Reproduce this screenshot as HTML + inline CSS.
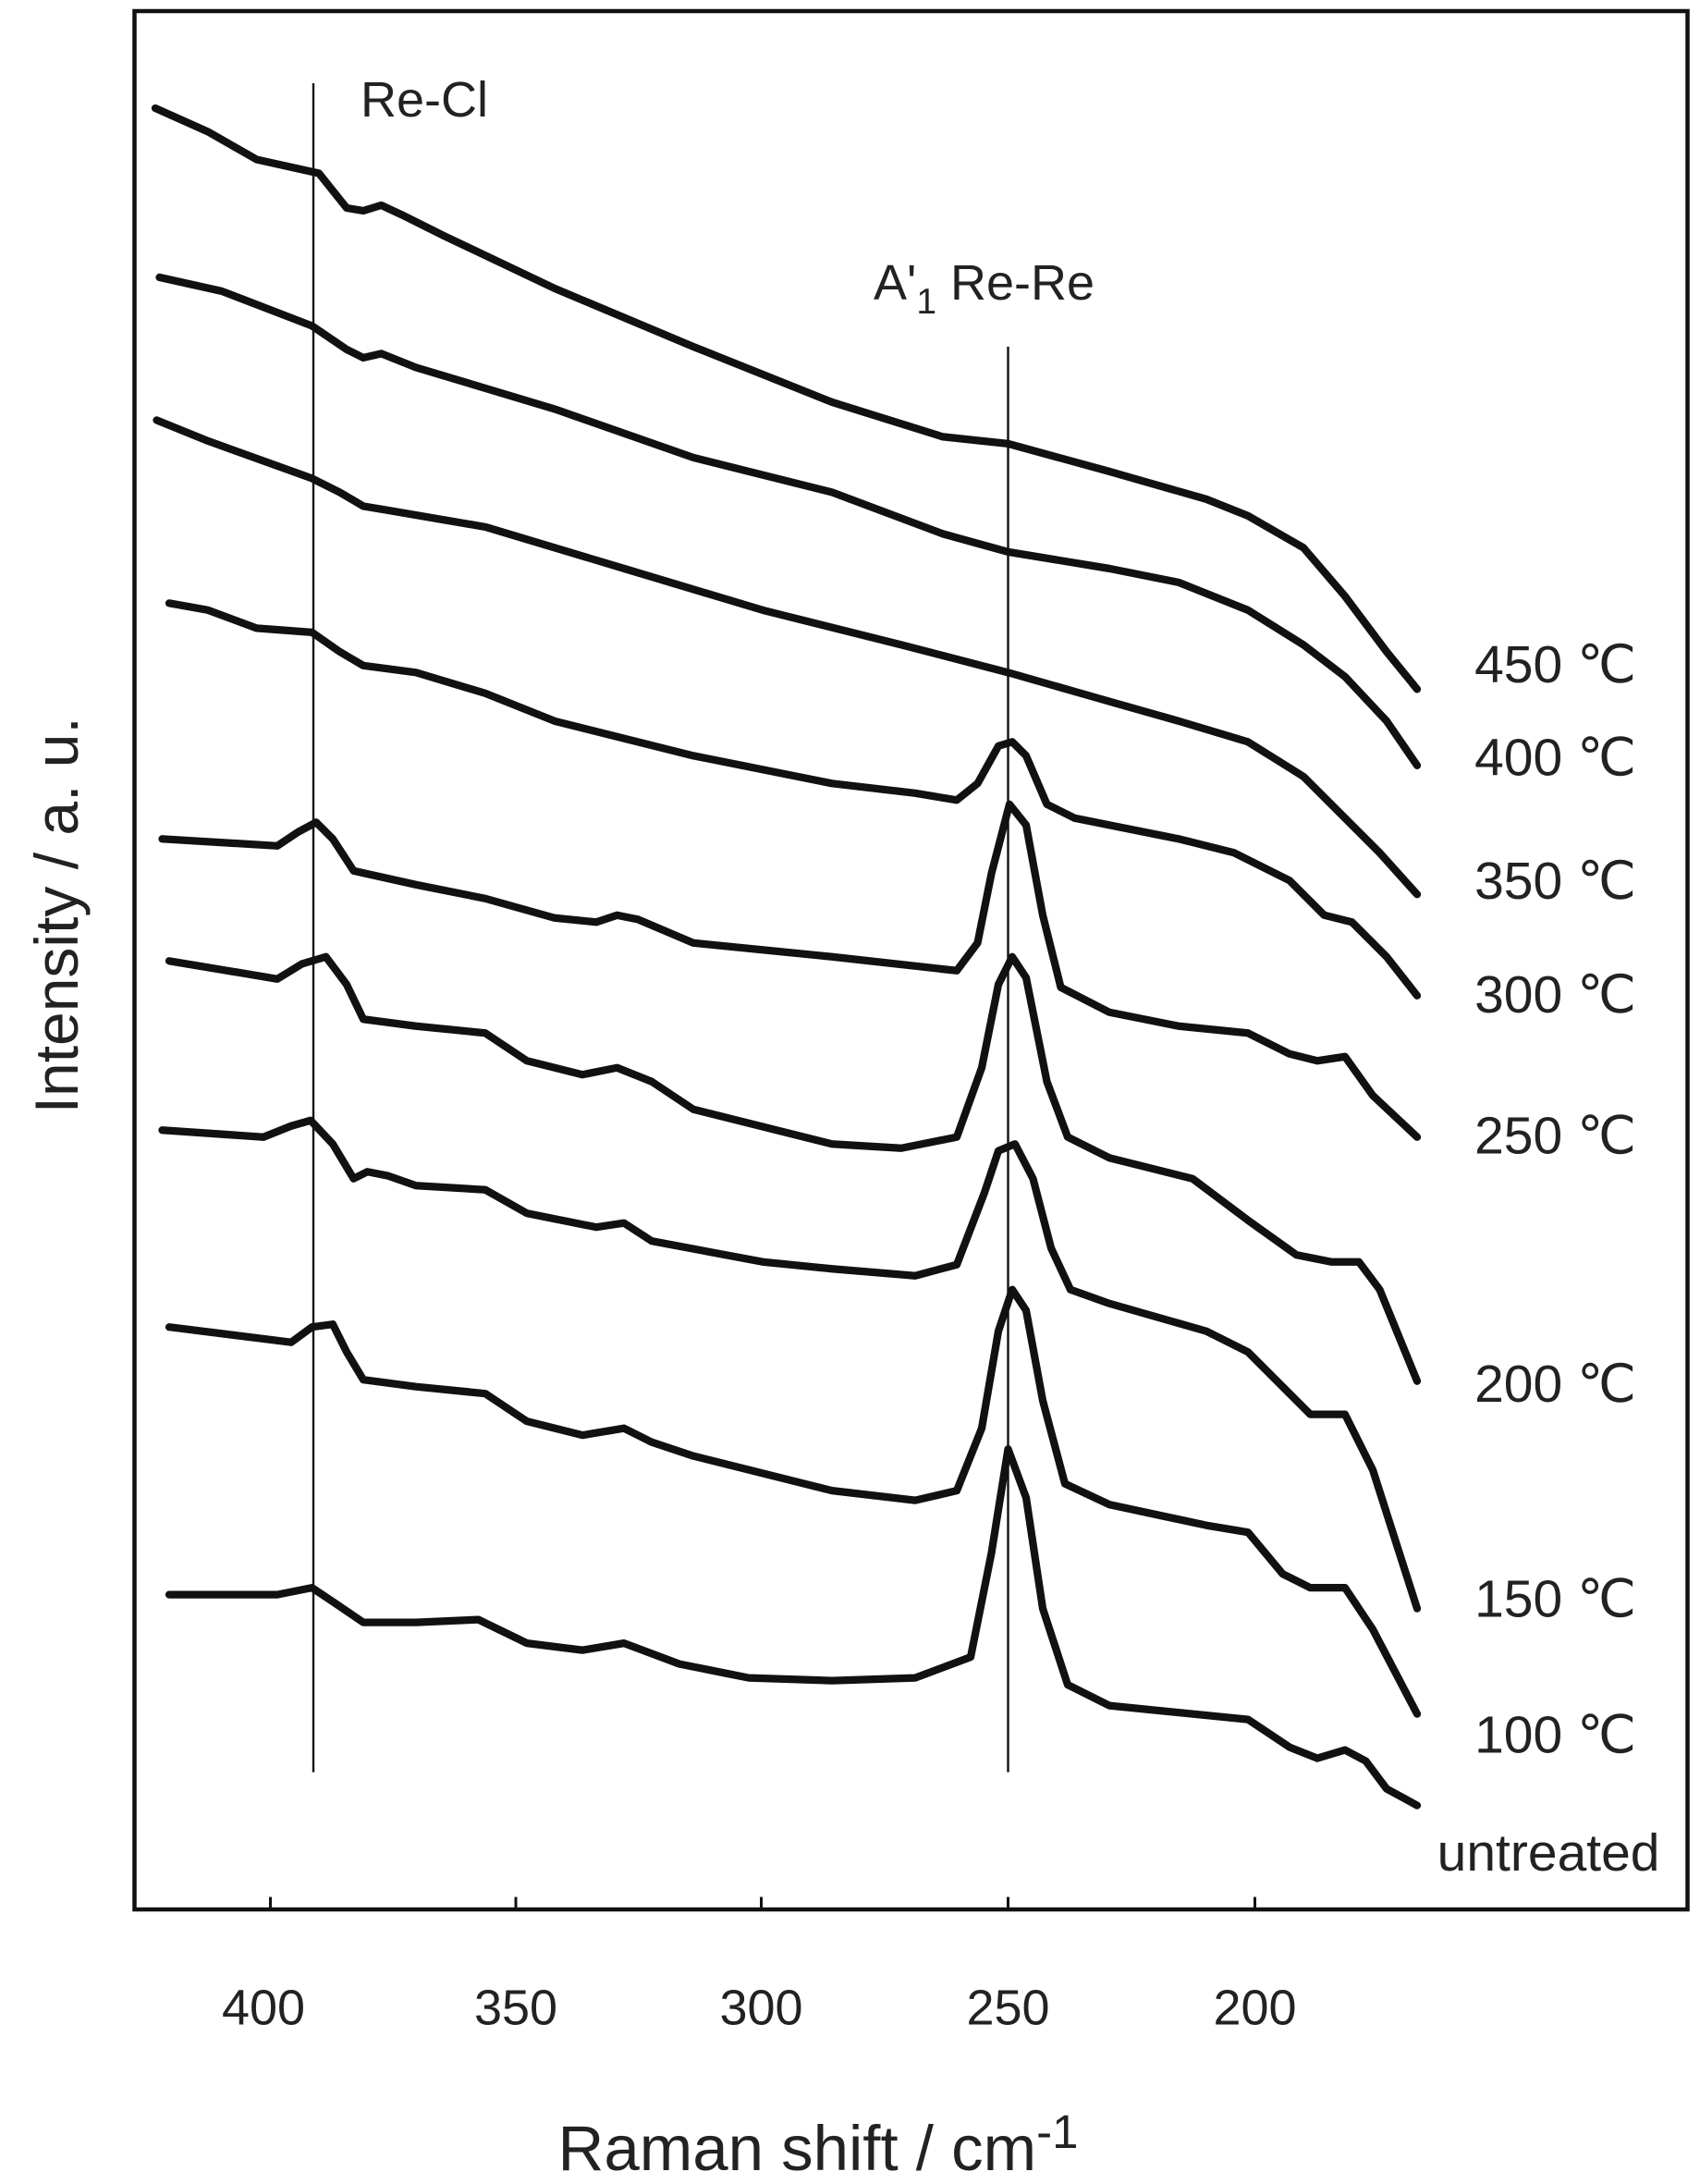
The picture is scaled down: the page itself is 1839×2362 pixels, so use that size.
<!DOCTYPE html>
<html><head><style>html,body{margin:0;padding:0;background:#fff}svg{display:block}</style></head>
<body>
<svg width="1839" height="2362" viewBox="0 0 1226 1575" preserveAspectRatio="none" xmlns="http://www.w3.org/2000/svg" font-family="Liberation Sans, DejaVu Sans, sans-serif">
<rect x="97" y="8" width="1120" height="1369" fill="none" stroke="#111" stroke-width="3"/>
<g stroke="#111" stroke-width="2">
<line x1="195" y1="1377" x2="195" y2="1368"/><line x1="372" y1="1377" x2="372" y2="1368"/><line x1="549" y1="1377" x2="549" y2="1368"/><line x1="727" y1="1377" x2="727" y2="1368"/><line x1="905" y1="1377" x2="905" y2="1368"/>
</g>
<g font-size="36" fill="#222" text-anchor="middle">
<text x="190" y="1460">400</text><text x="372" y="1460">350</text><text x="549" y="1460">300</text><text x="727" y="1460">250</text><text x="905" y="1460">200</text>
</g>
<text x="590" y="1565" font-size="46" fill="#222" text-anchor="middle">Raman shift / cm<tspan font-size="34" dy="-16">-1</tspan></text>
<text transform="translate(56,660) rotate(-90)" font-size="44" fill="#222" text-anchor="middle">Intensity / a. u.</text>
<line x1="226" y1="60" x2="226" y2="1278" stroke="#111" stroke-width="1.6"/>
<line x1="727" y1="250" x2="727" y2="1278" stroke="#111" stroke-width="1.6"/>
<text x="260" y="84" font-size="36" fill="#222">Re-Cl</text>
<text x="630" y="216" font-size="36" fill="#222">A'<tspan font-size="26" dy="10">1</tspan><tspan dy="-10"> Re-Re</tspan></text>
<g font-size="38" fill="#222" text-anchor="end">
<text x="1180" y="492">450 ℃</text><text x="1180" y="559">400 ℃</text><text x="1180" y="648">350 ℃</text><text x="1180" y="730">300 ℃</text><text x="1180" y="832">250 ℃</text><text x="1180" y="1011">200 ℃</text><text x="1180" y="1166">150 ℃</text><text x="1180" y="1264">100 ℃</text><text x="1197" y="1349">untreated</text>
</g>
<g fill="none" stroke="#111" stroke-width="5.5" stroke-linejoin="round" stroke-linecap="round">
<polyline points="112,78 150,95 185,115 230,125 250,150 262,152 275,148 290,155 320,170 400,208 500,250 600,290 680,315 727,320 800,340 870,360 900,372 940,395 970,430 1000,470 1022,497"/>
<polyline points="115,200 160,210 225,235 250,252 262,258 275,255 300,265 400,295 500,330 600,355 680,385 727,398 800,410 850,420 900,440 940,465 970,488 1000,520 1022,552"/>
<polyline points="113,303 150,318 225,345 245,355 262,365 280,368 350,380 450,410 550,440 650,465 727,485 790,503 850,520 900,535 940,560 970,590 995,615 1022,645"/>
<polyline points="122,435 150,440 185,453 225,456 245,470 262,480 300,485 350,500 400,520 500,545 600,565 660,572 690,577 705,565 720,538 730,535 740,545 755,580 775,590 850,605 890,615 930,635 955,660 975,665 1000,690 1022,718"/>
<polyline points="117,605 200,610 215,600 228,593 240,605 255,628 300,638 350,648 400,662 430,665 445,660 460,663 500,680 600,690 690,700 705,680 715,630 728,580 740,595 752,660 765,712 800,730 850,740 900,745 930,760 950,765 970,762 990,790 1022,820"/>
<polyline points="122,693 200,706 218,695 235,690 250,710 262,735 300,740 350,745 380,765 420,775 445,770 470,780 500,800 600,825 650,828 690,820 708,770 720,710 730,690 740,705 755,780 770,820 800,835 860,850 900,880 935,905 960,910 980,910 995,930 1022,996"/>
<polyline points="117,815 190,820 210,812 224,808 240,825 255,850 265,845 280,848 300,855 350,858 380,875 430,885 450,882 470,895 550,910 600,915 660,920 690,912 710,860 720,830 732,825 745,850 758,900 772,930 800,940 870,960 900,975 925,1000 945,1020 970,1020 990,1060 1022,1160"/>
<polyline points="122,957 210,968 225,957 240,955 250,975 262,995 300,1000 350,1005 380,1025 420,1035 450,1030 470,1040 500,1050 600,1075 660,1082 690,1075 708,1030 720,960 730,930 740,945 752,1010 768,1070 800,1085 870,1100 900,1105 925,1135 945,1145 970,1145 990,1175 1022,1236"/>
<polyline points="122,1150 200,1150 225,1145 240,1155 262,1170 300,1170 345,1168 380,1185 420,1190 450,1185 490,1200 540,1210 600,1212 660,1210 700,1195 715,1120 727,1045 740,1080 752,1160 770,1215 800,1230 900,1240 930,1260 950,1268 970,1262 985,1270 1000,1290 1022,1302"/>
</g>
</svg>
</body></html>
